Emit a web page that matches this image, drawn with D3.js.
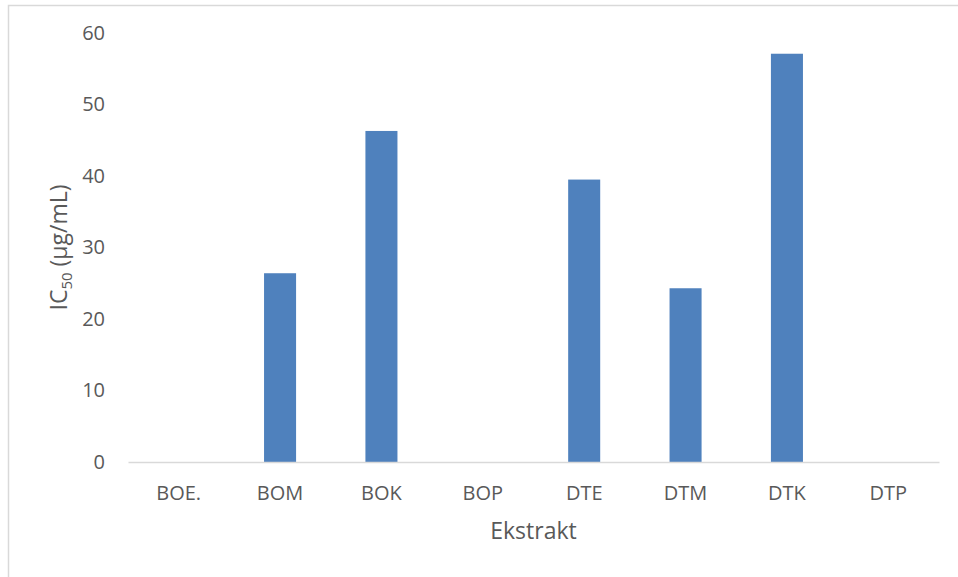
<!DOCTYPE html>
<html>
<head>
<meta charset="utf-8">
<script src="https://cdn.jsdelivr.net/npm/d3@7"></script>
<style>
  html, body { margin: 0; padding: 0; background: #fff; }
  svg { display: block; }
  text { font-family: "Open Sans", "Noto Sans", sans-serif; fill: #595959; }
</style>
</head>
<body>
<svg id="chart" width="958" height="577"></svg>
<script>
// Extract categories and their IC50 values (µg/mL); null = no bar
const categories = ["BOE.", "BOM", "BOK", "BOP", "DTE", "DTM", "DTK", "DTP"];
const ic50Values = [null, 26.4, 46.3, null, 39.5, 24.3, 57.1, null];
const yTicks = [0, 10, 20, 30, 40, 50, 60];

const svg = d3.select("#chart");
const W = 958, H = 577;
const plot = { left: 128, right: 939, top: 33, bottom: 462 };

// chart-area frame (only top and left edges fall inside the page)
svg.append("rect")
  .attr("x", 8.5).attr("y", 5.5)
  .attr("width", W + 20).attr("height", H + 20)
  .attr("fill", "#fff")
  .attr("stroke", "#d9d9d9").attr("stroke-width", 1.5);

const x = d3.scaleBand()
  .domain(categories)
  .range([plot.left, plot.right])
  .paddingInner(0.684)
  .paddingOuter(0.342);

const y = d3.scaleLinear()
  .domain([0, 60])
  .range([plot.bottom, plot.top]);

// bars
const data = categories.map((c, i) => ({ cat: c, value: ic50Values[i] }))
  .filter(d => d.value != null);

svg.append("g").selectAll("rect")
  .data(data)
  .join("rect")
  .attr("x", d => x(d.cat))
  .attr("y", d => y(d.value))
  .attr("width", x.bandwidth())
  .attr("height", d => y(0) - y(d.value))
  .attr("fill", "#4f81bd");

// y axis: labels only
const yAxis = d3.axisLeft(y).tickValues(yTicks).tickSize(0).tickPadding(0);
const yg = svg.append("g")
  .attr("transform", `translate(105,0)`)
  .call(yAxis);
yg.select(".domain").remove();
yg.selectAll("text")
  .attr("font-size", 20)
  .attr("fill", "#595959")
  .attr("font-family", "Open Sans");

// x axis: baseline and category labels
const xAxis = d3.axisBottom(x).tickSize(0).tickPadding(0);
const xg = svg.append("g")
  .attr("transform", `translate(0,${plot.bottom})`)
  .call(xAxis);
xg.select(".domain")
  .attr("stroke", "#d9d9d9")
  .attr("stroke-width", 1.5);
xg.selectAll("text")
  .attr("font-size", 20)
  .attr("fill", "#595959")
  .attr("font-family", "Open Sans")
  .attr("dy", null)
  .attr("y", 38);

// x axis title
svg.append("text")
  .attr("x", (plot.left + plot.right) / 2)
  .attr("y", 539)
  .attr("text-anchor", "middle")
  .attr("font-size", 23)
  .text("Ekstrakt");

// y axis title with subscript
const yt = svg.append("text")
  .attr("transform", `translate(67,${(plot.top + plot.bottom) / 2}) rotate(-90)`)
  .attr("text-anchor", "middle")
  .attr("font-size", 23);
yt.append("tspan").text("IC");
yt.append("tspan").attr("font-size", 15).attr("dy", 5).text("50");
yt.append("tspan").attr("dy", -5).text(" (µg/mL)");
</script>
</body>
</html>
